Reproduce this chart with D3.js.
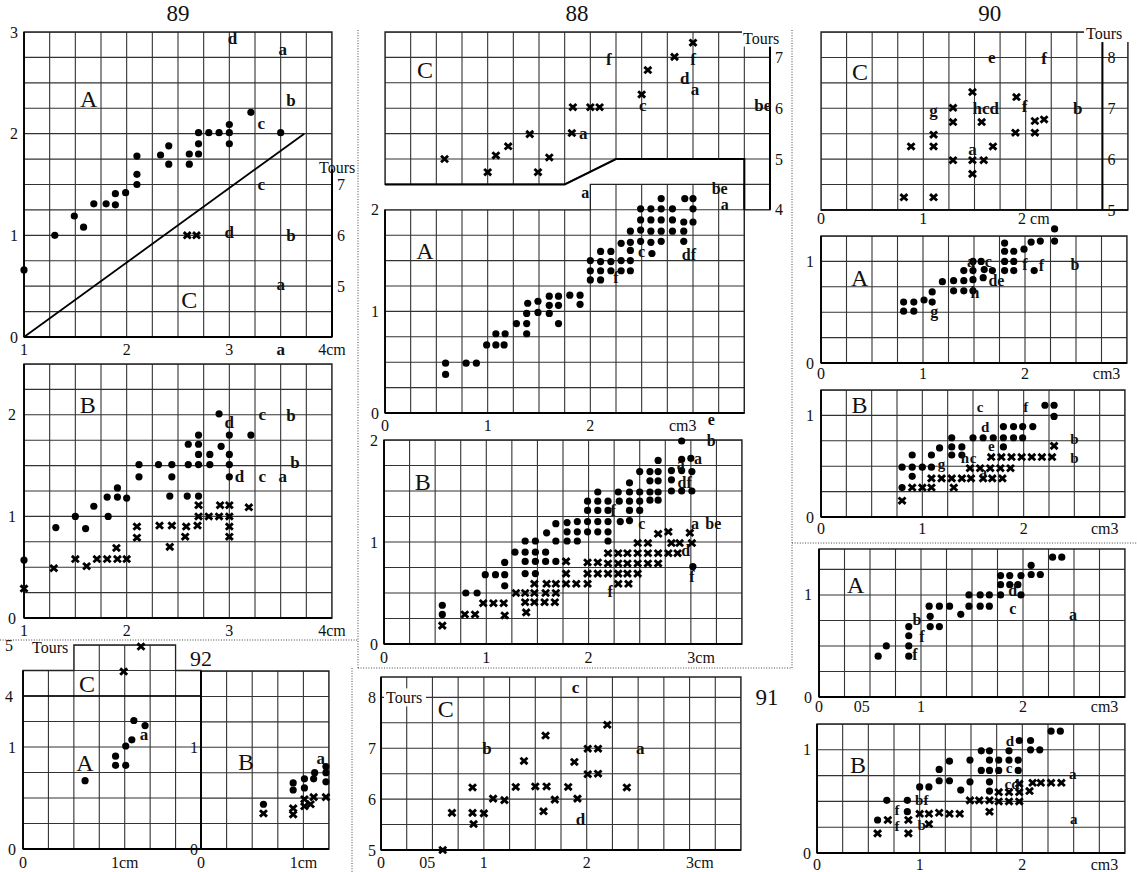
<!DOCTYPE html>
<html>
<head>
<meta charset="utf-8">
<script src="https://cdn.jsdelivr.net/npm/d3@7"></script>
<style>
  body { margin: 0; background: #fff; }
  svg text { font-family: "Liberation Serif", "DejaVu Serif", serif; fill: #111; }
</style>
</head>
<body>
<svg id="chart" width="1137" height="872"></svg>
<script>
// ---- data (x in cm / cm3, y in panel units, C panels in Tours) ----

// 89
const p89ADots = [[1.0,0.66],[1.30,1.0],[1.49,1.19],[1.58,1.08],[1.68,1.31],[1.80,1.31],[1.89,1.41],[1.89,1.30],
  [1.99,1.42],[2.10,1.50],[2.10,1.60],[2.10,1.78],[2.33,1.79],[2.41,1.88],[2.41,1.70],[2.61,1.80],[2.61,1.70],
  [2.70,2.01],[2.70,1.90],[2.70,1.80],[2.80,2.01],[2.90,2.01],[3.0,2.09],[3.0,2.01],[3.0,1.90],[3.21,2.21],[3.50,2.01]];
const p89CCross = [[2.59,6],[2.68,6]];
const p89Line = [[1,0],[3.73,2]];
const p89ALetters = [[3.03,2.94,'d'],[3.52,2.83,'a'],[3.6,2.33,'b'],[3.31,2.1,'c'],[3.31,1.5,'c'],
  [3.0,1.03,'d'],[3.6,1.0,'b'],[3.5,0.52,'a']];
const p89BDots = [[1.0,0.57],[1.31,0.89],[1.50,1.0],[1.60,0.88],[1.68,1.10],[1.81,1.19],[1.82,1.0],[1.91,1.28],
  [1.91,1.19],[2.0,1.18],[2.12,1.51],[2.12,1.39],[2.31,1.51],[2.44,1.51],[2.44,1.39],[2.42,1.20],[2.59,1.20],
  [2.60,1.51],[2.60,1.71],[2.70,1.80],[2.70,1.71],[2.70,1.61],[2.70,1.51],[2.70,1.20],[2.81,1.61],[2.81,1.51],
  [2.90,2.01],[2.92,1.69],[3.0,1.80],[3.0,1.61],[3.0,1.51],[3.0,1.39],[3.21,1.80]];
const p89BCross = [[1.0,0.29],[1.29,0.49],[1.50,0.58],[1.61,0.51],[1.71,0.58],[1.81,0.58],[1.91,0.58],[2.0,0.58],
  [1.90,0.69],[2.10,0.90],[2.10,0.79],[2.32,0.91],[2.44,0.91],[2.42,0.70],[2.58,0.90],[2.57,0.80],[2.69,0.91],
  [2.70,1.0],[2.70,1.11],[2.80,1.0],[2.90,1.0],[2.91,1.11],[3.0,1.11],[3.0,1.0],[3.0,0.9],[3.0,0.8],[3.19,1.09]];
const p89BLetters = [[3.0,1.92,'d'],[3.32,2.0,'c'],[3.6,1.99,'b'],[3.64,1.53,'b'],[3.52,1.39,'a'],
  [3.32,1.39,'c'],[3.1,1.39,'d']];

// 92
const p92ADots = [[0.61,0.67],[0.91,0.91],[0.91,0.82],[1.01,0.82],[1.01,1.01],[1.07,1.07],[1.09,1.26],[1.20,1.21]];
const p92CCross = [[0.99,4.48],[1.16,4.97]];
const p92ALetters = [[1.19,1.12,'a']];
const p92BDots = [[0.61,0.44],[0.90,0.65],[0.90,0.58],[1.01,0.69],[1.01,0.60],[1.10,0.69],[1.11,0.75],
  [1.22,0.81],[1.22,0.75],[1.22,0.66]];
const p92BCross = [[0.61,0.35],[0.90,0.40],[0.90,0.34],[1.01,0.42],[1.01,0.49],[1.07,0.44],[1.10,0.51],[1.22,0.51]];
const p92BLetters = [[1.17,0.89,'a']];

// 88
const p88CCross = [[0.58,5.0],[1.0,4.74],[1.08,5.07],[1.20,5.25],[1.41,5.49],[1.49,4.74],[1.60,5.03],[1.82,5.51],
  [1.83,6.02],[2.0,6.02],[2.09,6.02],[2.5,6.27],[2.56,6.75],[2.82,7.01],[3.0,7.29]];
const p88CLetters = [[2.18,6.95,'f'],[2.92,6.59,'d'],[3.02,6.36,'a'],[2.51,6.05,'c'],[3.0,6.95,'f'],
  [3.68,6.05,'be'],[1.93,5.51,'a']];
const p88ADots = [[0.59,0.49],[0.59,0.38],[0.79,0.49],[0.89,0.49],[0.99,0.67],[1.08,0.67],[1.16,0.67],[1.08,0.78],
  [1.17,0.78],[1.28,0.88],[1.38,0.88],[1.38,0.78],[1.38,0.98],[1.39,1.08],[1.49,1.10],[1.49,0.99],[1.60,1.15],
  [1.60,1.06],[1.60,0.98],[1.69,1.15],[1.69,1.06],[1.69,0.88],[1.80,1.16],[1.90,1.16],[1.90,1.07],
  [2.0,1.50],[2.0,1.40],[2.0,1.31],[2.10,1.59],[2.10,1.49],[2.10,1.40],[2.10,1.31],[2.20,1.59],[2.20,1.49],
  [2.20,1.40],[2.30,1.67],[2.30,1.50],[2.30,1.40],[2.39,1.79],[2.39,1.68],[2.39,1.60],[2.39,1.50],[2.39,1.40],
  [2.49,2.01],[2.49,1.90],[2.49,1.80],[2.49,1.69],[2.59,2.01],[2.59,1.90],[2.59,1.79],[2.59,1.68],[2.60,1.57],
  [2.69,2.11],[2.69,2.01],[2.69,1.90],[2.69,1.79],[2.69,1.69],[2.80,2.01],[2.80,1.90],[2.80,1.79],
  [2.91,1.88],[2.91,1.79],[2.91,1.69],[2.92,2.11],[3.0,2.11],[3.0,2.01],[3.0,1.88]];
const p88ALetters = [[2.5,1.59,'c'],[2.25,1.33,'f'],[2.96,1.56,'df'],[1.95,2.17,'a'],[3.26,2.21,'be'],[3.31,2.05,'a']];
const p88BDots = [[0.57,0.38],[0.57,0.29],[0.80,0.50],[0.91,0.50],[0.99,0.68],[1.09,0.68],[1.18,0.68],[1.18,0.80],
  [1.18,0.57],[1.28,0.90],[1.38,1.01],[1.38,0.90],[1.38,0.81],[1.38,0.69],[1.48,1.01],[1.48,0.90],[1.48,0.81],
  [1.48,0.69],[1.59,1.09],[1.58,0.90],[1.58,0.81],[1.68,1.18],[1.68,1.01],[1.68,0.81],[1.79,1.19],[1.79,1.10],
  [1.79,1.01],[1.89,1.20],[1.89,1.10],[1.89,1.01],[1.99,1.40],[1.99,1.31],[1.99,1.20],[1.99,1.10],
  [2.09,1.49],[2.09,1.40],[2.09,1.31],[2.09,1.20],[2.09,1.10],[2.19,1.40],[2.19,1.31],[2.19,1.20],[2.19,1.10],
  [2.19,1.01],[2.29,1.49],[2.30,1.40],[2.31,1.20],[2.40,1.58],[2.40,1.49],[2.40,1.40],[2.40,1.31],[2.40,1.21],
  [2.50,1.69],[2.50,1.49],[2.50,1.40],[2.50,1.31],[2.60,1.69],[2.60,1.60],[2.60,1.49],[2.60,1.41],
  [2.68,1.80],[2.68,1.69],[2.68,1.60],[2.68,1.49],[2.68,1.41],[2.81,1.70],[2.81,1.61],[2.81,1.50],
  [2.91,1.99],[2.91,1.81],[2.91,1.70],[2.91,1.50],[3.0,1.82],[3.01,1.69],[3.01,1.50],[3.02,0.76]];
const p88BCross = [[0.57,0.18],[0.79,0.29],[0.89,0.29],[0.97,0.40],[1.07,0.40],[1.17,0.40],[1.18,0.28],
  [1.29,0.50],[1.38,0.50],[1.47,0.50],[1.38,0.41],[1.47,0.41],[1.57,0.41],[1.67,0.41],[1.39,0.31],
  [1.47,0.59],[1.59,0.59],[1.68,0.59],[1.58,0.50],[1.68,0.50],[1.78,0.81],[1.78,0.69],[1.78,0.59],
  [1.88,0.59],[1.99,0.59],[1.99,0.80],[1.99,0.69],[2.09,0.80],[2.09,0.69],[2.19,0.89],[2.19,0.79],[2.19,0.69],
  [2.29,0.89],[2.29,0.79],[2.29,0.69],[2.38,0.89],[2.38,0.79],[2.38,0.69],[2.48,0.89],[2.48,0.79],[2.48,0.69],
  [2.48,0.99],[2.58,0.99],[2.58,0.89],[2.58,0.79],[2.68,0.89],[2.68,0.79],[2.68,1.08],[2.78,0.89],[2.87,0.89],
  [2.78,1.10],[2.81,0.99],[2.89,0.99],[2.99,1.09],[3.01,0.99],[2.29,0.59],[2.39,0.59]];
const p88BLetters = [[2.24,1.31,'f'],[2.52,1.18,'c'],[2.21,0.51,'f'],[3.04,1.18,'a'],[3.22,1.18,'be'],
  [3.07,1.82,'a'],[2.94,1.58,'df'],[3.2,2.0,'b'],[3.2,2.2,'e'],[2.95,0.92,'d'],[3.01,0.66,'f'],[2.90,1.76,'a']];

// 91
const p91Cross = [[0.60,5.0],[0.69,5.73],[0.89,6.23],[0.89,5.73],[0.90,5.51],[1.0,5.72],[1.09,6.01],[1.20,5.98],
  [1.31,6.24],[1.39,6.75],[1.50,6.25],[1.60,7.25],[1.61,6.25],[1.58,5.76],[1.69,5.99],[1.82,6.24],[1.88,6.73],
  [1.91,6.01],[2.01,6.99],[2.01,6.49],[2.11,6.99],[2.11,6.50],[2.20,7.46],[2.39,6.23]];
const p91Letters = [[1.89,8.19,'c'],[1.03,6.99,'b'],[2.52,6.99,'a'],[1.94,5.6,'d']];

// 90
const p90CCross = [[0.81,5.25],[1.10,5.25],[0.88,6.25],[1.10,6.25],[1.10,6.48],[1.29,7.01],[1.29,6.73],[1.29,5.98],
  [1.48,7.32],[1.48,5.98],[1.48,5.71],[1.57,6.73],[1.59,5.98],[1.68,6.25],[1.90,6.52],[1.91,7.22],[2.09,6.52],
  [2.09,6.75],[2.18,6.78]];
const p90CLetters = [[1.67,8.0,'e'],[2.18,7.97,'f'],[1.10,6.96,'g'],[1.61,6.99,'hcd'],[1.99,7.03,'f'],
  [2.51,6.99,'b'],[1.48,6.19,'a']];
const p90ADots = [[0.81,0.60],[0.81,0.51],[0.91,0.60],[0.91,0.51],[1.01,0.62],[1.09,0.70],[1.09,0.60],[1.19,0.80],
  [1.30,0.81],[1.30,0.71],[1.40,0.81],[1.40,0.71],[1.40,0.91],[1.49,1.0],[1.49,0.91],[1.49,0.82],[1.49,0.71],
  [1.57,1.0],[1.60,0.92],[1.59,0.84],[1.68,0.91],[1.80,1.18],[1.80,1.10],[1.80,1.0],[1.80,0.91],[1.89,1.10],
  [1.89,1.0],[1.89,0.91],[1.99,1.12],[2.06,1.19],[2.09,0.91],[2.15,1.20],[2.29,1.32],[2.29,1.20]];
const p90ALetters = [[1.47,1.0,'a'],[1.64,1.0,'c'],[1.72,0.81,'de'],[1.51,0.69,'h'],[1.11,0.51,'g'],
  [2.0,0.97,'f'],[2.16,0.96,'f'],[2.49,0.97,'b']];
const p90BDots = [[2.21,1.10],[2.30,1.10],[2.30,0.99],[1.80,0.89],[1.90,0.89],[1.99,0.89],[2.09,0.89],
  [1.29,0.78],[1.50,0.78],[1.60,0.78],[1.70,0.78],[1.80,0.78],[1.90,0.78],[1.99,0.78],[1.29,0.69],[1.39,0.69],
  [1.80,0.69],[0.90,0.61],[1.09,0.61],[1.17,0.68],[1.29,0.61],[1.39,0.61],[0.80,0.49],[0.90,0.49],[1.0,0.49],
  [1.09,0.49],[0.90,0.40],[0.80,0.29]];
const p90BCross = [[1.68,0.59],[1.78,0.59],[1.88,0.59],[1.98,0.59],[2.08,0.59],[2.18,0.59],[2.28,0.59],[2.30,0.70],
  [1.47,0.48],[1.57,0.48],[1.67,0.48],[1.77,0.48],[1.87,0.48],[1.09,0.38],[1.19,0.38],[1.29,0.38],[1.39,0.38],
  [1.48,0.38],[1.60,0.38],[1.69,0.38],[1.79,0.38],[0.90,0.29],[1.0,0.29],[1.09,0.29],[1.31,0.29],[0.80,0.16]];
const p90BLetters = [[1.57,1.08,'c'],[2.02,1.08,'f'],[1.62,0.89,'d'],[2.5,0.77,'b'],[2.5,0.58,'b'],
  [1.68,0.70,'e'],[1.19,0.52,'g'],[1.42,0.58,'h'],[1.5,0.58,'c'],[1.6,0.44,'a']];

// lower right, A and B
const pRADots = [[0.58,0.40],[0.66,0.50],[0.88,0.50],[0.88,0.40],[0.88,0.60],[0.88,0.69],[1.09,0.79],[1.09,0.69],
  [1.18,0.69],[1.08,0.89],[1.18,0.89],[1.28,0.89],[1.39,0.81],[1.47,1.0],[1.58,1.0],[1.67,1.0],[1.47,0.89],
  [1.58,0.89],[1.67,0.89],[1.78,1.0],[1.78,1.10],[1.78,1.19],[1.87,1.19],[1.98,1.19],[1.98,1.0],[2.08,1.29],
  [2.08,1.20],[2.17,1.20],[2.29,1.37],[2.38,1.37],[1.87,1.10],[1.95,1.10]];
const pRALetters = [[1.9,1.04,'d'],[1.9,0.87,'c'],[2.49,0.81,'a'],[0.96,0.76,'b'],[1.01,0.59,'f'],[0.94,0.42,'f']];
const pRBDots = [[0.59,0.32],[0.68,0.51],[0.88,0.51],[0.88,0.40],[1.0,0.64],[1.09,0.64],[1.19,0.81],[1.19,0.70],
  [1.29,0.89],[1.29,0.70],[1.40,0.61],[1.49,0.90],[1.49,0.69],[1.60,0.99],[1.68,0.99],[1.60,0.80],[1.68,0.80],
  [1.68,0.90],[1.68,0.69],[1.68,0.60],[1.77,0.90],[1.87,0.90],[1.96,0.90],[1.77,0.80],[1.87,0.99],[1.97,1.09],
  [2.08,1.09],[2.08,1.0],[2.17,1.0],[2.28,1.18],[2.37,1.18],[1.96,0.80]];
const pRBCross = [[0.59,0.19],[0.69,0.32],[0.89,0.32],[0.89,0.19],[1.0,0.38],[1.09,0.38],[1.19,0.39],[1.29,0.38],
  [1.39,0.38],[1.09,0.28],[1.49,0.51],[1.58,0.51],[1.68,0.51],[1.68,0.40],[1.77,0.59],[1.87,0.59],[1.97,0.59],
  [1.77,0.50],[1.87,0.50],[1.97,0.50],[1.97,0.67],[2.07,0.60],[2.10,0.68],[2.18,0.68],[2.28,0.68],[2.38,0.68]];
const pRBLetters = [[1.88,1.09,'d'],[1.87,0.82,'c'],[1.9,0.67,'cd'],[2.49,0.77,'a'],[2.5,0.33,'a'],
  [1.02,0.51,'bf'],[0.78,0.42,'f'],[0.78,0.26,'f'],[1.02,0.27,'b']];

// tick labels: [value, text]
const cmTicks89 = [[1,'1'],[2,'2'],[3,'3'],[4,'4cm']];
const yTicks89 = [[0,'0'],[1,'1'],[2,'2'],[3,'3']];
const yTicks89B = [[0,'0'],[1,'1'],[2,'2']];
const toursTicks89 = [[5,'5'],[6,'6'],[7,'7']];
const cmTicks92 = [[0,'0'],[1,'1cm']];
const yTicks01 = [[0,'0'],[1,'1']];
const toursTicks92 = [[4,'4'],[5,'5']];
const cm3Ticks88 = [[0,'0'],[1,'1'],[2,'2'],[2.9,'cm3']];
const cmTicks88B = [[0,'0'],[1,'1'],[2,'2'],[3.1,'3cm']];
const yTicks88 = [[0,'0'],[1,'1'],[2,'2']];
const toursTicks88 = [[4,'4'],[5,'5'],[6,'6'],[7,'7']];
const cmTicks91 = [[0,'0'],[0.45,'05'],[1,'1'],[2,'2'],[3.1,'3cm']];
const toursTicks91 = [[5,'5'],[6,'6'],[7,'7'],[8,'8']];
const cmTicks90C = [[0,'0'],[1,'1'],[2.08,'2 cm']];
const toursTicks90 = [[5,'5'],[6,'6'],[7,'7'],[8,'8']];
const cm3Ticks90 = [[0,'0'],[1,'1'],[2,'2'],[2.8,'cm3']];
const cm3TicksRA = [[0,'0'],[0.42,'05'],[1,'1'],[2,'2'],[2.8,'cm3']];

// ---- drawing helpers ----
const svg = d3.select('#chart');
let clipCount = 0;

function rectPts(x0, x1, y0, y1) {
  return [[x0, y0], [x1, y0], [x1, y1], [x0, y1]];
}

// grid of 0.25 (or given step) cells clipped to a polygon given in data units
function drawGrid(sx, sy, poly, xStep, yStep) {
  const id = 'grid-clip' + clipCount++;
  const pts = poly.map(p => [sx(p[0]), sy(p[1])]);
  svg.append('clipPath').attr('id', id).append('polygon').attr('points', pts.join(' '));
  const xe = d3.extent(poly, p => p[0]);
  const ye = d3.extent(poly, p => p[1]);
  const g = svg.append('g').attr('clip-path', 'url(#' + id + ')');
  const xs = d3.range(Math.ceil(xe[0] / xStep) * xStep, xe[1] + 1e-6, xStep);
  const ys = d3.range(Math.ceil(ye[0] / yStep) * yStep, ye[1] + 1e-6, yStep);
  g.selectAll(null).data(xs).join('line')
    .attr('x1', d => sx(d)).attr('x2', d => sx(d))
    .attr('y1', sy(ye[0])).attr('y2', sy(ye[1]))
    .attr('stroke', '#333').attr('stroke-width', 1.1);
  g.selectAll(null).data(ys).join('line')
    .attr('y1', d => sy(d)).attr('y2', d => sy(d))
    .attr('x1', sx(xe[0])).attr('x2', sx(xe[1]))
    .attr('stroke', '#333').attr('stroke-width', 1.1);
  svg.append('polygon').attr('points', pts.join(' '))
    .attr('fill', 'none').attr('stroke', '#222').attr('stroke-width', 1.3);
}

function axisLine(x1, y1, x2, y2, w) {
  svg.append('line').attr('x1', x1).attr('y1', y1).attr('x2', x2).attr('y2', y2)
    .attr('stroke', '#000').attr('stroke-width', w || 1.8);
}

function dots(sx, sy, data) {
  svg.append('g').selectAll(null).data(data).join('circle')
    .attr('cx', d => sx(d[0])).attr('cy', d => sy(d[1])).attr('r', 3.6).attr('fill', '#000');
}

function crosses(sx, sy, data) {
  svg.append('g').selectAll(null).data(data).join('path')
    .attr('transform', d => `translate(${sx(d[0])},${sy(d[1])})`)
    .attr('d', 'M-3.5,-3.2L3.5,3.2M3.5,-3.2L-3.5,3.2')
    .attr('stroke', '#000').attr('stroke-width', 2.9).attr('fill', 'none');
}

function letters(sx, sy, data, size) {
  svg.append('g').selectAll(null).data(data).join('text')
    .attr('x', d => sx(d[0])).attr('y', d => sy(d[1]))
    .attr('text-anchor', 'middle').attr('dominant-baseline', 'central')
    .attr('font-size', size || 17).attr('font-weight', 'bold')
    .text(d => d[2]);
}

function label(x, y, txt, size, anchor) {
  svg.append('text').attr('x', x).attr('y', y)
    .attr('text-anchor', anchor || 'middle').attr('dominant-baseline', 'central')
    .attr('font-size', size || 16).text(txt);
}

function xTicks(sx, ticks, y) {
  ticks.forEach(t => label(sx(t[0]), y, t[1], 16));
}
function yTicks(sy, ticks, x, anchor) {
  ticks.forEach(t => label(x, sy(t[0]), t[1], 16, anchor || 'end'));
}

function dotted(x1, y1, x2, y2) {
  svg.append('line').attr('x1', x1).attr('y1', y1).attr('x2', x2).attr('y2', y2)
    .attr('stroke', '#444').attr('stroke-width', 1).attr('stroke-dasharray', '1,1.6');
}

// ---- panels ----
function panel89() {
  const x = d3.scaleLinear().domain([1, 4]).range([24, 332]);
  const y = d3.scaleLinear().domain([0, 3]).range([337, 32]);
  const t = d3.scaleLinear().domain([4, 7]).range([y(0), y(1.5)]);
  drawGrid(x, y, rectPts(1, 4, 0, 3), 0.25, 0.25);
  axisLine(x(1), y(0), x(1), y(3));
  axisLine(x(1), y(0), x(4), y(0));
  axisLine(x(4), t(7.3), x(4), y(0), 2);
  svg.append('path').attr('d', d3.line().x(d => x(d[0])).y(d => y(d[1]))(p89Line))
    .attr('stroke', '#000').attr('stroke-width', 1.8).attr('fill', 'none');
  dots(x, y, p89ADots);
  crosses(x, t, p89CCross);
  letters(x, y, p89ALetters);
  label(x(1.63), y(2.34), 'A', 24);
  label(x(2.61), y(0.36), 'C', 24);
  label(x(2.5), 13, '89', 23);
  yTicks(y, yTicks89, 18);
  toursTicks89.forEach(d => label(x(4) + 5, t(d[0]), d[1], 16, 'start'));
  label(x(4) - 13, t(7.33), 'Tours', 16, 'start');
  xTicks(x, cmTicks89, 349);
  letters(x, y, [[3.5, -0.12, 'a']]);

  const xb = d3.scaleLinear().domain([1, 4]).range([24, 332]);
  const yb = d3.scaleLinear().domain([0, 2.5]).range([618, 364]);
  drawGrid(xb, yb, rectPts(1, 4, 0, 2.5), 0.25, 0.25);
  axisLine(xb(1), yb(0), xb(1), yb(2.5));
  axisLine(xb(1), yb(0), xb(4), yb(0));
  dots(xb, yb, p89BDots);
  crosses(xb, yb, p89BCross);
  letters(xb, yb, p89BLetters);
  label(xb(1.62), yb(2.1), 'B', 24);
  yTicks(yb, yTicks89B, 16);
  xTicks(xb, cmTicks89, 630);
}

function panel92() {
  const x = d3.scaleLinear().domain([0, 1.75]).range([23, 201]);
  const y = d3.scaleLinear().domain([0, 2]).range([849, 645]);
  const t = d3.scaleLinear().domain([4, 5]).range([y(1.5), y(2)]);
  const poly = [[0, 0], [1.75, 0], [1.75, 1.75], [1.5, 1.75], [1.5, 2], [0.5, 2], [0.5, 1.75], [0, 1.75]];
  drawGrid(x, y, poly, 0.25, 0.25);
  axisLine(x(0), y(0), x(0), y(1.75));
  axisLine(x(0), y(0), x(1.75), y(0));
  axisLine(x(0), y(1.5), x(1.75), y(1.5), 1.4);
  dots(x, y, p92ADots);
  crosses(x, t, p92CCross);
  letters(x, y, p92ALetters);
  label(x(0.61), y(0.84), 'A', 24);
  label(x(0.63), t(4.24), 'C', 24);
  yTicks(y, yTicks01, 16);
  toursTicks92.forEach(d => label(9, t(d[0]), d[1], 16));
  label(32, t(4.96), 'Tours', 16, 'start');
  xTicks(x, cmTicks92, 862);

  const xb = d3.scaleLinear().domain([0, 1.25]).range([201, 329]);
  const yb = d3.scaleLinear().domain([0, 1.75]).range([849, 671]);
  drawGrid(xb, yb, rectPts(0, 1.25, 0, 1.75), 0.25, 0.25);
  axisLine(xb(0), yb(0), xb(0), yb(1.75));
  axisLine(xb(0), yb(0), xb(1.25), yb(0));
  dots(xb, yb, p92BDots);
  crosses(xb, yb, p92BCross);
  letters(xb, yb, p92BLetters);
  label(xb(0.44), yb(0.86), 'B', 24);
  yTicks(yb, yTicks01, 198);
  xTicks(xb, cmTicks92, 862);
  svg.append('rect').attr('x', 186).attr('y', 647).attr('width', 30).attr('height', 22).attr('fill', '#fff');
  label(201, 658, '92', 22);
}

function panel88() {
  const x = d3.scaleLinear().domain([0, 3.75]).range([385, 770]);
  const y = d3.scaleLinear().domain([0, 3.75]).range([413, 32]);
  const t = d3.scaleLinear().domain([4, 7.5]).range([y(2), y(3.75)]);
  const cPoly = [[0, 3.75], [3.75, 3.75], [3.75, 2], [3.5, 2], [3.5, 2.5], [2.25, 2.5], [1.75, 2.25], [0, 2.25]];
  const aPoly = [[0, 0], [3.5, 0], [3.5, 2.25], [2, 2.25], [2, 2], [0, 2]];
  drawGrid(x, y, cPoly, 0.25, 0.25);
  drawGrid(x, y, aPoly, 0.25, 0.25);
  svg.append('path').attr('d', d3.line().x(d => x(d[0])).y(d => y(d[1]))(cPoly.slice(3)))
    .attr('stroke', '#000').attr('stroke-width', 2).attr('fill', 'none');
  axisLine(x(0), y(0), x(0), y(2));
  axisLine(x(0), y(0), x(3.5), y(0));
  axisLine(x(3.75), t(7.25), x(3.75), y(2), 2);
  dots(x, y, p88ADots);
  crosses(x, t, p88CCross);
  letters(x, t, p88CLetters);
  letters(x, y, p88ALetters, 16);
  label(x(0.39), t(6.75), 'C', 24);
  label(x(0.39), y(1.59), 'A', 24);
  label(x(1.87), 13, '88', 23);
  yTicks(y, yTicks88, 379);
  toursTicks88.forEach(d => label(x(3.75) + 5, t(d[0]), d[1], 16, 'start'));
  svg.append('rect').attr('x', x(3.75) - 28).attr('y', t(7.37) - 8).attr('width', 44).attr('height', 16).attr('fill', '#fff');
  label(x(3.75) - 27, t(7.37), 'Tours', 16, 'start');
  xTicks(x, cm3Ticks88, 425);

  const xb = d3.scaleLinear().domain([0, 3.5]).range([384, 742]);
  const yb = d3.scaleLinear().domain([0, 2]).range([644, 440]);
  drawGrid(xb, yb, rectPts(0, 3.5, 0, 2), 0.25, 0.25);
  axisLine(xb(0), yb(0), xb(0), yb(2));
  axisLine(xb(0), yb(0), xb(3.5), yb(0));
  dots(xb, yb, p88BDots);
  crosses(xb, yb, p88BCross);
  letters(xb, yb, p88BLetters, 16);
  label(xb(0.38), yb(1.59), 'B', 24);
  yTicks(yb, yTicks88, 378);
  xTicks(xb, cmTicks88B, 657);
}

function panel91() {
  const x = d3.scaleLinear().domain([0, 3.5]).range([381, 741]);
  const t = d3.scaleLinear().domain([5, 8.4]).range([850, 677]);
  drawGrid(x, t, rectPts(0, 3.5, 5, 8.4), 0.25, 0.5);
  axisLine(x(0), t(5), x(0), t(8.4));
  axisLine(x(0), t(5), x(3.5), t(5));
  crosses(x, t, p91Cross);
  letters(x, t, p91Letters);
  svg.append('rect').attr('x', x(0) + 3).attr('y', t(8) - 9).attr('width', 42).attr('height', 18).attr('fill', '#fff');
  label(x(0) + 5, t(8), 'Tours', 16, 'start');
  label(x(0.63), t(7.78), 'C', 24);
  label(767, 697, '91', 23);
  yTicks(t, toursTicks91, 376);
  xTicks(x, cmTicks91, 862);
}

function panel90() {
  const x = d3.scaleLinear().domain([0, 3]).range([821, 1128]);
  const t = d3.scaleLinear().domain([5, 8.5]).range([210, 32]);
  drawGrid(x, t, rectPts(0, 3, 5, 8.5), 0.25, 0.5);
  axisLine(x(0), t(5), x(3), t(5), 1.5);
  axisLine(x(2.75), t(8.3), x(2.75), t(5), 2);
  crosses(x, t, p90CCross);
  letters(x, t, p90CLetters);
  label(x(0.38), t(7.71), 'C', 24);
  label(x(1.65), 13, '90', 23);
  toursTicks90.forEach(d => label(x(2.75) + 5, t(d[0]), d[1], 16, 'start'));
  svg.append('rect').attr('x', 1084).attr('y', 25).attr('width', 48).attr('height', 17).attr('fill', '#fff');
  label(1086, 33, 'Tours', 16, 'start');
  xTicks(x, cmTicks90C, 218);

  const xa = d3.scaleLinear().domain([0, 3]).range([821, 1127]);
  const ya = d3.scaleLinear().domain([0, 1.25]).range([363, 236]);
  drawGrid(xa, ya, rectPts(0, 3, 0, 1.25), 0.25, 0.25);
  axisLine(xa(0), ya(0), xa(0), ya(1.25));
  axisLine(xa(0), ya(0), xa(3), ya(0));
  dots(xa, ya, p90ADots);
  letters(xa, ya, p90ALetters, 16);
  label(xa(0.38), ya(0.84), 'A', 24);
  yTicks(ya, yTicks01, 814);
  xTicks(xa, cm3Ticks90, 373);

  const xb = d3.scaleLinear().domain([0, 3]).range([821, 1125]);
  const yb = d3.scaleLinear().domain([0, 1.25]).range([517, 390]);
  drawGrid(xb, yb, rectPts(0, 3, 0, 1.25), 0.25, 0.25);
  axisLine(xb(0), yb(0), xb(0), yb(1.25));
  axisLine(xb(0), yb(0), xb(3), yb(0));
  dots(xb, yb, p90BDots);
  crosses(xb, yb, p90BCross);
  letters(xb, yb, p90BLetters, 15);
  label(xb(0.38), yb(1.1), 'B', 24);
  yTicks(yb, yTicks01, 814);
  xTicks(xb, cm3Ticks90, 528);
}

function panelRight() {
  const xa = d3.scaleLinear().domain([0, 3]).range([819, 1125]);
  const ya = d3.scaleLinear().domain([0, 1.45]).range([697, 549]);
  drawGrid(xa, ya, rectPts(0, 3, 0, 1.45), 0.25, 0.25);
  axisLine(xa(0), ya(0), xa(0), ya(1.45));
  axisLine(xa(0), ya(0), xa(3), ya(0));
  dots(xa, ya, pRADots);
  letters(xa, ya, pRALetters, 16);
  label(xa(0.36), ya(1.1), 'A', 24);
  yTicks(ya, yTicks01, 812);
  xTicks(xa, cm3TicksRA, 706);

  const xb = d3.scaleLinear().domain([0, 3]).range([817, 1125]);
  const yb = d3.scaleLinear().domain([0, 1.25]).range([853, 724]);
  drawGrid(xb, yb, rectPts(0, 3, 0, 1.25), 0.25, 0.25);
  axisLine(xb(0), yb(0), xb(0), yb(1.25));
  axisLine(xb(0), yb(0), xb(3), yb(0));
  dots(xb, yb, pRBDots);
  crosses(xb, yb, pRBCross);
  letters(xb, yb, pRBLetters, 15);
  label(xb(0.4), yb(0.85), 'B', 24);
  yTicks(yb, yTicks01, 811);
  xTicks(xb, cm3Ticks90, 864);
}

panel89();
panel92();
panel88();
panel91();
panel90();
panelRight();

// separators between the groups
dotted(358, 30, 358, 668);
dotted(792, 30, 792, 668);
dotted(0, 640, 358, 640);
dotted(358, 668, 792, 668);
dotted(792, 543, 1137, 543);
dotted(352, 668, 352, 872);
</script>
</body>
</html>
